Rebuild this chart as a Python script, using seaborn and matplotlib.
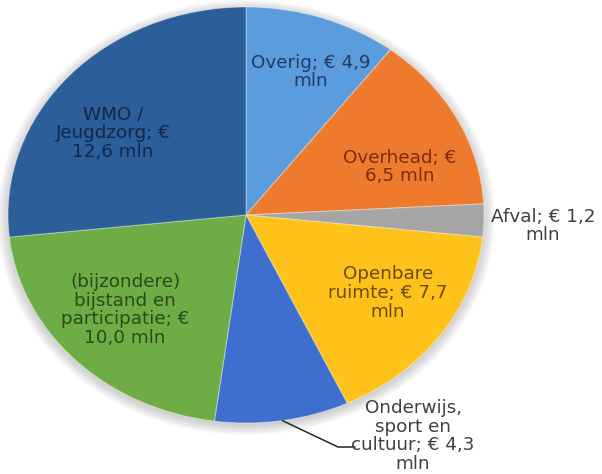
import matplotlib
matplotlib.use("Agg")
import matplotlib.pyplot as plt
import seaborn as sns
import numpy as np
from matplotlib.patches import Ellipse

# ---- data ----
categories = ["Overig", "Overhead", "Afval", "Openbare ruimte",
              "Onderwijs, sport en cultuur",
              "(bijzondere) bijstand en participatie", "WMO / Jeugdzorg"]
values = [4.9, 6.5, 1.2, 7.7, 4.3, 10.0, 12.6]
labels = ["Overig; € 4,9\nmln",
          "Overhead; €\n6,5 mln",
          "Afval; € 1,2\nmln",
          "Openbare\nruimte; € 7,7\nmln",
          "Onderwijs,\nsport en\ncultuur; € 4,3\nmln",
          "(bijzondere)\nbijstand en\nparticipatie; €\n10,0 mln",
          "WMO /\nJeugdzorg; €\n12,6 mln"]

# ---- style ----
colors = ["#5B9DDC", "#EE7A2E", "#A5A5A5", "#FFC21A", "#3F6FCE", "#6EAD45", "#2C5E99"]
label_colors = ["#1E3C6A", "#7A2E0A", "#404040", "#6B4C00", "#404040", "#2A4A18", "#10284A"]
# label centres in pixels (x, y from top)
label_pos_px = [(311, 72), (400, 167), (543, 226), (388, 293), (413, 436), (125, 310), (113, 133)]

sns.set_style("white")
plt.rcParams['font.family'] = ['DejaVu Sans']

W, H = 602, 474
cx, cy, rx, ry = 246, 215, 238, 208


def px(x, y):
    return ((x - cx) / rx, (cy - y) / ry)


fig = plt.figure(figsize=(W / 100, H / 100), dpi=100)
ax = fig.add_axes([0, 0, 1, 1])

# soft shadow around the pie
for s in np.linspace(1.045, 1.0, 8):
    ax.add_patch(Ellipse((0.0, -0.012), 2 * s, 2 * s, facecolor="#808080",
                         alpha=0.05, edgecolor="none", zorder=0))

wedges, _ = ax.pie(values, colors=colors, startangle=90, counterclock=False,
                   wedgeprops=dict(edgecolor=(1, 1, 1, 0.35), linewidth=0.8, zorder=2))
ax.set_aspect('auto')
ax.set_xlim(-cx / rx, (W - cx) / rx)
ax.set_ylim(-(H - cy) / ry, cy / ry)
ax.axis('off')

for lab, col, (lx, ly) in zip(labels, label_colors, label_pos_px):
    x, y = px(lx, ly)
    ax.text(x, y, lab, ha='center', va='center', fontsize=13.2, color=col,
            linespacing=1.06, zorder=5)

# leader line for "Onderwijs, sport en cultuur"
w = wedges[4]
mid = np.deg2rad((w.theta1 + w.theta2) / 2)
sx, sy = np.cos(mid), np.sin(mid)
bx, by = px(338, 447)
ex, ey = px(355, 447)
ax.plot([sx, bx, ex], [sy, by, ey], color="#262626", lw=1.1, zorder=4)

fig.savefig("out.png", dpi=100)
